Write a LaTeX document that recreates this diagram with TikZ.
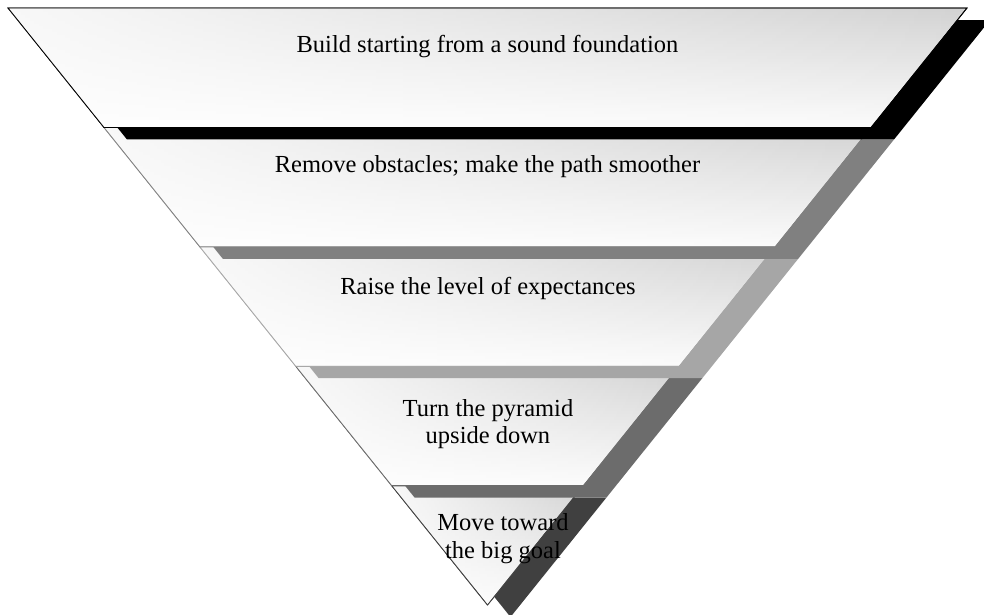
\documentclass[tikz,border=0pt]{standalone}
\usepackage{fontspec}
\setmainfont{Liberation Serif}
\usetikzlibrary{fadings}
\definecolor{tierA}{HTML}{000000}
\definecolor{tierB}{HTML}{808080}
\definecolor{tierC}{HTML}{A6A6A6}
\definecolor{tierD}{HTML}{6C6C6C}
\definecolor{tierE}{HTML}{404040}
% white sheen that lightens the left end of every tier
\tikzfading[name=tiersheen, left color=transparent!15, middle color=transparent!92, right color=transparent!100]
\begin{document}
\begin{tikzpicture}[x=1pt,y=-1pt,
  tiertext/.style={font=\fontsize{24.5}{27.5}\selectfont, align=center, inner sep=0pt, anchor=base},
  tierface/.style={draw=#1, line width=0.8pt, line join=miter,
    top color=gray!35, bottom color=gray!3},
  tiershadow/.style={fill=#1, draw=none}]
\useasboundingbox (0,0) rectangle (984,614);
\clip (0,0) rectangle (984,614);
% tiers of the inverted pyramid, drawn from the tip upwards so that
% each tier's drop shadow lies over the top of the tier below it
\foreach \yt/\yb/\col in {485.6/605/tierE, 366.2/485.6/tierD, 246.8/366.2/tierC,
                          127.4/246.8/tierB, 8/127.4/tierA}{
  \pgfmathsetmacro\xa{8+(\yt-8)*0.80318}
  \pgfmathsetmacro\xb{967-(\yt-8)*0.80318}
  \pgfmathsetmacro\xc{967-(\yb-8)*0.80318}
  \pgfmathsetmacro\xd{8+(\yb-8)*0.80318}
  \fill[tiershadow=\col] (\xa+23,\yt+12) -- (\xb+23,\yt+12) -- (\xc+23,\yb+12) -- (\xd+23,\yb+12) -- cycle;
  \shade[tierface=\col] (\xa,\yt) -- (\xb,\yt) -- (\xc,\yb) -- (\xd,\yb) -- cycle;
  \fill[white, path fading=tiersheen] (\xa,\yt) -- (\xb,\yt) -- (\xc,\yb) -- (\xd,\yb) -- cycle;
  \draw[draw=\col, line width=0.8pt, line join=miter] (\xa,\yt) -- (\xb,\yt) -- (\xc,\yb) -- (\xd,\yb) -- cycle;
}
% labels
\node[tiertext] (t1) at (487.5,52) {Build starting from a sound foundation};
\node[tiertext] (t2) at (487.5,172) {Remove obstacles; make the path smoother};
\node[tiertext] (t3) at (488,294) {Raise the level of expectances};
\node[tiertext] (t4) at (488,443.5) {Turn the pyramid\\upside down};
\node[tiertext] (t5) at (503,558) {Move toward\\the big goal};
\end{tikzpicture}
\end{document}
